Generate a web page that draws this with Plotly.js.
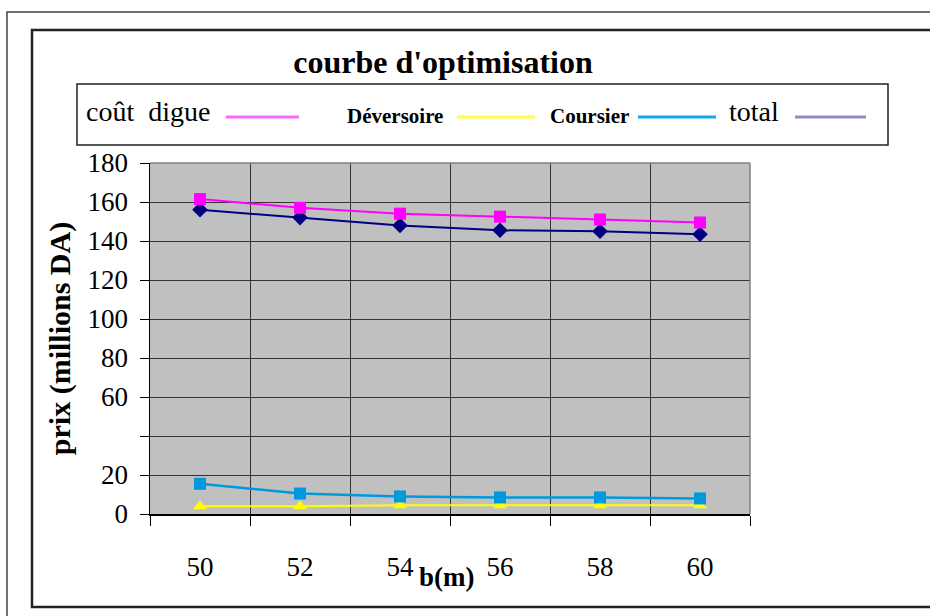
<!DOCTYPE html>
<html>
<head>
<meta charset="utf-8">
<script src="https://cdn.plot.ly/plotly-3.0.1.min.js"></script>
<style>
  html, body { margin: 0; padding: 0; background: #fff; }
  #chart { width: 930px; height: 616px; }
</style>
</head>
<body>
<div id="chart"></div>
<script>
// Largeur b (m) du déversoir
const largeurs = [50, 52, 54, 56, 58, 60];

// Coûts en millions DA
const coutDigue = [161.5, 157, 154, 152.5, 151, 149.5];
const coutDeversoire = [4, 4, 4.5, 4.5, 4.5, 4.5];
const coutCoursier = [15.5, 10.5, 9, 8.5, 8.5, 8];
const coutTotal = [156, 152, 148, 145.5, 145, 143.5];

// Noms des séries
const nomsSeries = ["coût  digue", "Déversoire", "Coursier", "total"];

// Graduations de l'axe des prix (la graduation 40 n'est pas étiquetée)
const yTickVals = [0, 20, 40, 60, 80, 100, 120, 140, 160, 180];
const yTickText = ["0", "20", "", "60", "80", "100", "120", "140", "160", "180"];

const W = 930, H = 616;
const M = { l: 150, r: 180, t: 163, b: 102 };
const PW = W - M.l - M.r, PH = H - M.t - M.b;
// pixel -> paper
const px = x => (x - M.l) / PW;
const py = y => (H - M.b - y) / PH;

const SERIF = "Liberation Serif";

const traces = [
  {
    x: largeurs, y: coutTotal, name: nomsSeries[3], type: "scatter", mode: "lines+markers",
    line: { color: "#000080", width: 2 },
    marker: { symbol: "diamond", size: 12, color: "#000080" }
  },
  {
    x: largeurs, y: coutDigue, name: nomsSeries[0], type: "scatter", mode: "lines+markers",
    line: { color: "#ff00ff", width: 2 },
    marker: { symbol: "square", size: 12, color: "#ff00ff" }
  },
  {
    x: largeurs, y: coutDeversoire, name: nomsSeries[1], type: "scatter", mode: "lines+markers",
    line: { color: "#ffff00", width: 2 },
    marker: { symbol: "triangle-up", size: 12, color: "#ffff00" }
  },
  {
    x: largeurs, y: coutCoursier, name: nomsSeries[2], type: "scatter", mode: "lines+markers",
    line: { color: "#0099dd", width: 2.5 },
    marker: { symbol: "square", size: 12, color: "#0099dd" }
  }
];

// Légende dessinée à la main : texte puis trait
const legendItems = [
  { text: nomsSeries[0], x: 84, size: 28, bold: false, color: "#ff66ff", l0: 226, l1: 299 },
  { text: nomsSeries[1], x: 345, size: 21, bold: true, color: "#ffff44", l0: 457, l1: 535 },
  { text: nomsSeries[2], x: 548, size: 21, bold: true, color: "#10a8e8", l0: 638, l1: 716 },
  { text: nomsSeries[3], x: 727, size: 28, bold: false, color: "#8c8cc8", l0: 795, l1: 866 }
];

const annotations = legendItems.map(it => ({
  xref: "paper", yref: "paper",
  x: px(it.x), y: py(it.bold ? 116 : 111),
  xanchor: "left", yanchor: "middle",
  text: it.bold ? "<b>" + it.text + "</b>" : it.text,
  showarrow: false,
  font: { family: SERIF, size: it.size, color: "#000" }
}));

annotations.push({
  xref: "paper", yref: "paper",
  x: px(447), y: py(577), xanchor: "center", yanchor: "middle",
  text: "<b>b(m)</b>", showarrow: false,
  font: { family: SERIF, size: 27, color: "#000" }
});

const shapes = [
  // cadres extérieurs
  { type: "rect", xref: "paper", yref: "paper", x0: px(7), y0: py(12), x1: px(940), y1: py(630),
    line: { color: "#444", width: 1.5 }, fillcolor: "rgba(0,0,0,0)", layer: "below" },
  { type: "rect", xref: "paper", yref: "paper", x0: px(32), y0: py(30), x1: px(940), y1: py(607),
    line: { color: "#222", width: 2.5 }, fillcolor: "rgba(0,0,0,0)", layer: "below" },
  // cadre de la légende
  { type: "rect", xref: "paper", yref: "paper", x0: px(77), y0: py(84), x1: px(888), y1: py(145),
    line: { color: "#222", width: 1.5 }, fillcolor: "rgba(0,0,0,0)" },
  // bordure grise de la zone de tracé
  { type: "line", xref: "paper", yref: "paper", x0: 0, y0: 1, x1: 1, y1: 1,
    line: { color: "#808080", width: 1.5 } },
  { type: "line", xref: "paper", yref: "paper", x0: 1, y0: 0, x1: 1, y1: 1,
    line: { color: "#808080", width: 1.5 } }
];

legendItems.forEach(it => {
  shapes.push({
    type: "line", xref: "paper", yref: "paper",
    x0: px(it.l0), x1: px(it.l1), y0: py(117), y1: py(117),
    line: { color: it.color, width: 3 }
  });
});

const layout = {
  width: W, height: H,
  margin: M,
  font: { family: SERIF, color: "#000" },
  paper_bgcolor: "#ffffff",
  plot_bgcolor: "#c0c0c0",
  showlegend: false,
  title: {
    text: "<b>courbe d'optimisation</b>",
    x: px(443), xref: "paper", xanchor: "center",
    y: 1 - 62 / H, yanchor: "middle",
    font: { family: SERIF, size: 32, color: "#000" }
  },
  xaxis: {
    range: [49, 61],
    tickmode: "array", tickvals: largeurs, ticktext: largeurs.map(String),
    ticks: "", showgrid: false, zeroline: false,
    ticklabelstandoff: 28,
    tickfont: { family: SERIF, size: 27, color: "#000" },
    showline: true, linecolor: "#000", linewidth: 2,
    minor: {
      tick0: 49, dtick: 2, ticks: "outside", ticklen: 10, tickcolor: "#000", tickwidth: 1,
      showgrid: true, gridcolor: "#333", gridwidth: 1
    }
  },
  yaxis: {
    range: [0, 180],
    tickmode: "array", tickvals: yTickVals, ticktext: yTickText,
    ticks: "outside", ticklen: 9, tickcolor: "#000", tickwidth: 1,
    ticklabelstandoff: 6,
    showgrid: true, gridcolor: "#333", gridwidth: 1, zeroline: false,
    showline: true, linecolor: "#000", linewidth: 1.5,
    tickfont: { family: SERIF, size: 27, color: "#000" },
    title: {
      text: "<b>prix (millions DA)</b>",
      standoff: 8,
      font: { family: SERIF, size: 30, color: "#000" }
    },
    automargin: false
  },
  annotations: annotations,
  shapes: shapes
};

Plotly.newPlot("chart", traces, layout, { displayModeBar: false, staticPlot: true });
</script>
</body>
</html>
